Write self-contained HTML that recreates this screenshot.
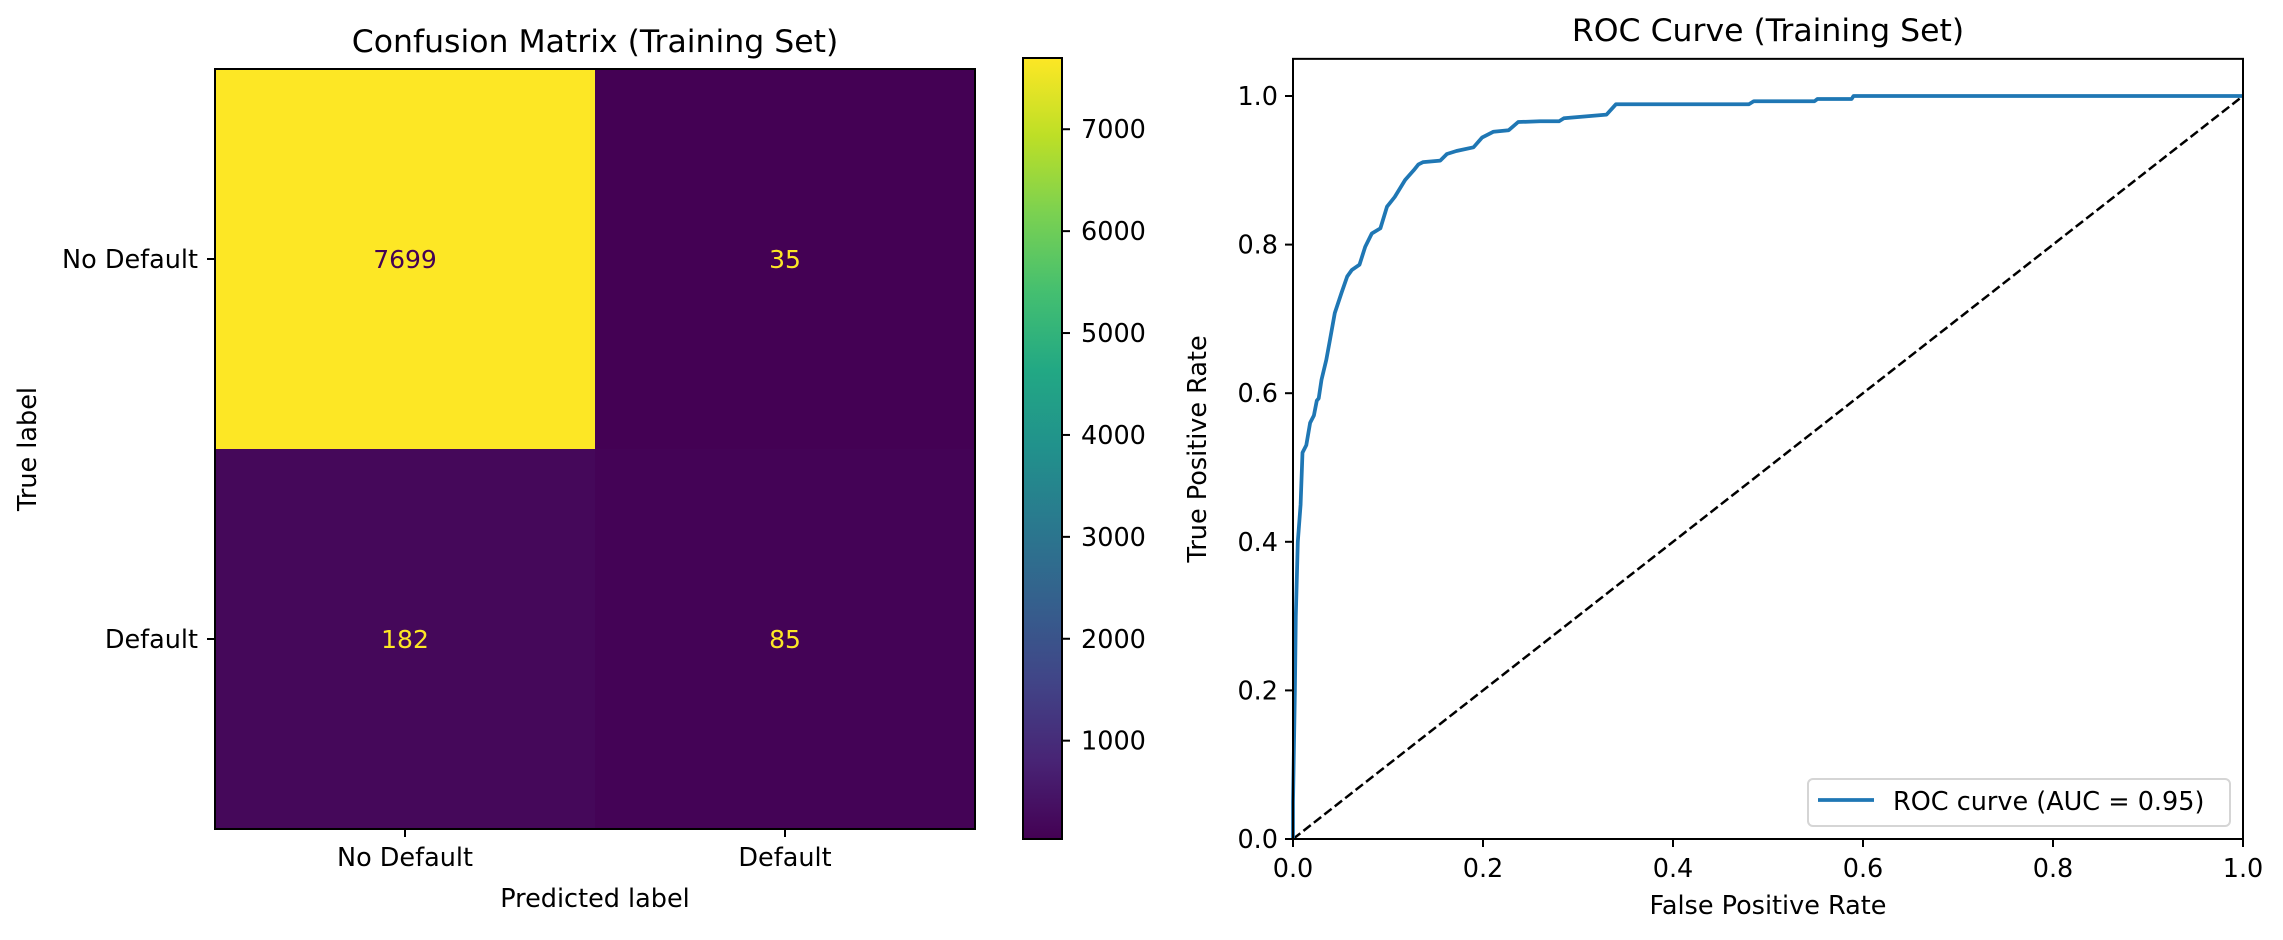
<!DOCTYPE html>
<html><head><meta charset="utf-8"><style>
html,body{margin:0;padding:0;background:#fff;}
svg{display:block;font-family:"DejaVu Sans","Liberation Sans",sans-serif;}
</style></head><body>
<svg id="fig" width="2283" height="940" viewBox="0 0 2283 940" xmlns="http://www.w3.org/2000/svg">
<defs>
<linearGradient id="viridis" x1="0" y1="1" x2="0" y2="0">
<stop offset="0" stop-color="#440154"/><stop offset="0.1" stop-color="#482475"/><stop offset="0.2" stop-color="#414487"/><stop offset="0.3" stop-color="#355f8d"/><stop offset="0.4" stop-color="#2a788e"/><stop offset="0.5" stop-color="#21918c"/><stop offset="0.6" stop-color="#22a884"/><stop offset="0.7" stop-color="#44bf70"/><stop offset="0.8" stop-color="#7ad151"/><stop offset="0.9" stop-color="#bddf26"/><stop offset="1" stop-color="#fde725"/>
</linearGradient>
</defs>
<g id="cm"></g>
<g id="cbar"></g>
<g id="roc"></g>
</svg>
<script>
const cmClasses = ["No Default", "Default"];
const cmValues = [[7699, 35], [182, 85]];
const cbarTicks = [1000, 2000, 3000, 4000, 5000, 6000, 7000];
const rocFpr = [0,0,0.002,0.003,0.005,0.008,0.01,0.014,0.018,0.022,0.025,0.027,0.030,0.035,0.039,0.044,0.051,0.057,0.062,0.070,0.076,0.083,0.092,0.099,0.107,0.118,0.127,0.132,0.137,0.155,0.162,0.172,0.190,0.199,0.211,0.227,0.237,0.260,0.28,0.285,0.33,0.34,0.48,0.485,0.549,0.552,0.588,0.59,1.0];
const rocTpr = [0,0.05,0.2,0.3,0.4,0.45,0.52,0.53,0.56,0.57,0.59,0.593,0.618,0.645,0.672,0.708,0.735,0.757,0.766,0.773,0.797,0.815,0.822,0.851,0.864,0.887,0.900,0.908,0.911,0.913,0.922,0.926,0.931,0.944,0.952,0.954,0.965,0.966,0.966,0.970,0.975,0.989,0.989,0.993,0.993,0.996,0.996,1.0,1.0];
const rocTicks = [0, 0.2, 0.4, 0.6, 0.8, 1.0];
const aucLabel = "ROC curve (AUC = 0.95)";

const NS = "http://www.w3.org/2000/svg";
function mk(parent, tag, attrs, text){
  const e = document.createElementNS(NS, tag);
  for (const k in attrs) e.setAttribute(k, attrs[k]);
  if (text !== undefined) e.textContent = text;
  parent.appendChild(e); return e;
}
const stops=[[68,1,84],[72,36,117],[65,68,135],[53,95,141],[42,120,142],[33,145,140],[34,168,132],[68,191,112],[122,209,81],[189,223,38],[253,231,37]];
function viridis(t){t=Math.max(0,Math.min(1,t));const p=t*10,i=Math.min(9,Math.floor(p)),f=p-i;const a=stops[i],b=stops[i+1];
  return "rgb("+a.map((v,j)=>Math.round(v+(b[j]-v)*f)).join(",")+")";}

// ---- Confusion matrix ----
const cm = document.getElementById("cm");
const CX0=215, CY0=69, CS=760, cell=CS/2;
const vmin = Math.min(...cmValues.flat()), vmax = Math.max(...cmValues.flat());
const cx = j => CX0 + cell*j;
const cy = i => CY0 + cell*i;
cmValues.forEach((row,i)=>row.forEach((v,j)=>{
  const t=(v-vmin)/(vmax-vmin);
  const r=mk(cm,"rect",{x:cx(j),y:cy(i),width:cell+0.5,height:cell+0.5,fill:viridis(t)});
  
  
  const tx=mk(cm,"text",{x:cx(j)+cell/2,y:cy(i)+cell/2+9,"text-anchor":"middle","font-size":"25",fill:t>0.5?"#440154":"#fde725"},String(v));
  
  
}));
mk(cm,"rect",{x:CX0,y:CY0,width:CS,height:CS,fill:"none",stroke:"#000","stroke-width":2});
cmClasses.forEach((c,k)=>{
  mk(cm,"line",{x1:CX0-8,x2:CX0,y1:cy(k)+cell/2,y2:cy(k)+cell/2,stroke:"#000","stroke-width":2});
  const yl=mk(cm,"text",{x:CX0-17,y:cy(k)+cell/2+9,"text-anchor":"end","font-size":"25.5"},c);
  
  
  mk(cm,"line",{x1:cx(k)+cell/2,x2:cx(k)+cell/2,y1:CY0+CS,y2:CY0+CS+8,stroke:"#000","stroke-width":2});
  const xl=mk(cm,"text",{x:cx(k)+cell/2,y:CY0+CS+37,"text-anchor":"middle","font-size":"25.5"},c);
  
  
});
const cmt=mk(cm,"text",{x:CX0+CS/2,y:52,"text-anchor":"middle","font-size":"31.5"},"Confusion Matrix (Training Set)");


const cmxl=mk(cm,"text",{x:CX0+CS/2,y:907,"text-anchor":"middle","font-size":"25.5"},"Predicted label");


const cmyl=mk(cm,"text",{x:0,y:0,"text-anchor":"middle","font-size":"25.5",transform:"translate(36,"+(CY0+CS/2)+") rotate(-90)"},"True label");



// ---- Colorbar ----
const cb=document.getElementById("cbar");
const BX=1023,BW=39,BT=58,BB=839;
const by = v => BB - (v-vmin)/(vmax-vmin)*(BB-BT);
mk(cb,"rect",{x:BX,y:BT,width:BW,height:BB-BT,fill:"url(#viridis)",stroke:"#000","stroke-width":2});
cbarTicks.forEach(v=>{
  mk(cb,"line",{x1:BX+BW,x2:BX+BW+8,y1:by(v),y2:by(v),stroke:"#000","stroke-width":2});
  const t=mk(cb,"text",{x:BX+BW+19,y:by(v)+9,"font-size":"25.5"},String(v));
  
  
});

// ---- ROC ----
const roc=document.getElementById("roc");
const RX0=1293,RX1=2243,RY0=839,RY1=96;
const sx = v => RX0 + v*(RX1-RX0);
const sy = v => RY0 - v*(RY0-RY1);
const rtop = sy(1.05);
const diag=mk(roc,"line",{x1:sx(0),y1:sy(0),x2:sx(1),y2:sy(1),stroke:"#000","stroke-width":2.5,"stroke-dasharray":"9.25,4"});


const pts=rocFpr.map((f,i)=>sx(f).toFixed(1)+","+sy(rocTpr[i]).toFixed(1)).join(" ");
const curve=mk(roc,"polyline",{points:pts,fill:"none",stroke:"#1f77b4","stroke-width":3.75,"stroke-linejoin":"round"});


mk(roc,"rect",{x:RX0,y:rtop,width:RX1-RX0,height:RY0-rtop,fill:"none",stroke:"#000","stroke-width":2});
rocTicks.forEach(v=>{
  mk(roc,"line",{x1:sx(v),x2:sx(v),y1:RY0,y2:RY0+8,stroke:"#000","stroke-width":2});
  const xt=mk(roc,"text",{x:sx(v),y:RY0+38,"text-anchor":"middle","font-size":"25.5"},v.toFixed(1));
  
  
  mk(roc,"line",{x1:RX0-8,x2:RX0,y1:sy(v),y2:sy(v),stroke:"#000","stroke-width":2});
  const yt=mk(roc,"text",{x:RX0-15,y:sy(v)+9,"text-anchor":"end","font-size":"25.5"},v.toFixed(1));
  
  
});
const rt=mk(roc,"text",{x:(RX0+RX1)/2,y:41,"text-anchor":"middle","font-size":"31.5"},"ROC Curve (Training Set)");


const rxl=mk(roc,"text",{x:(RX0+RX1)/2,y:914,"text-anchor":"middle","font-size":"25.5"},"False Positive Rate");


const ryl=mk(roc,"text",{x:0,y:0,"text-anchor":"middle","font-size":"25.5",transform:"translate(1206,"+((RY0+rtop)/2)+") rotate(-90)"},"True Positive Rate");


const lg=mk(roc,"g",{});


mk(lg,"rect",{x:1808,y:779,width:422,height:47,rx:5,fill:"#fff","fill-opacity":0.8,stroke:"#d5d5d5","stroke-width":2});
mk(lg,"line",{x1:1818,x2:1874,y1:800,y2:800,stroke:"#1f77b4","stroke-width":3.75});
const lt=mk(lg,"text",{x:1893,y:810,"font-size":"25.5"},aucLabel);


</script>
</body></html>
